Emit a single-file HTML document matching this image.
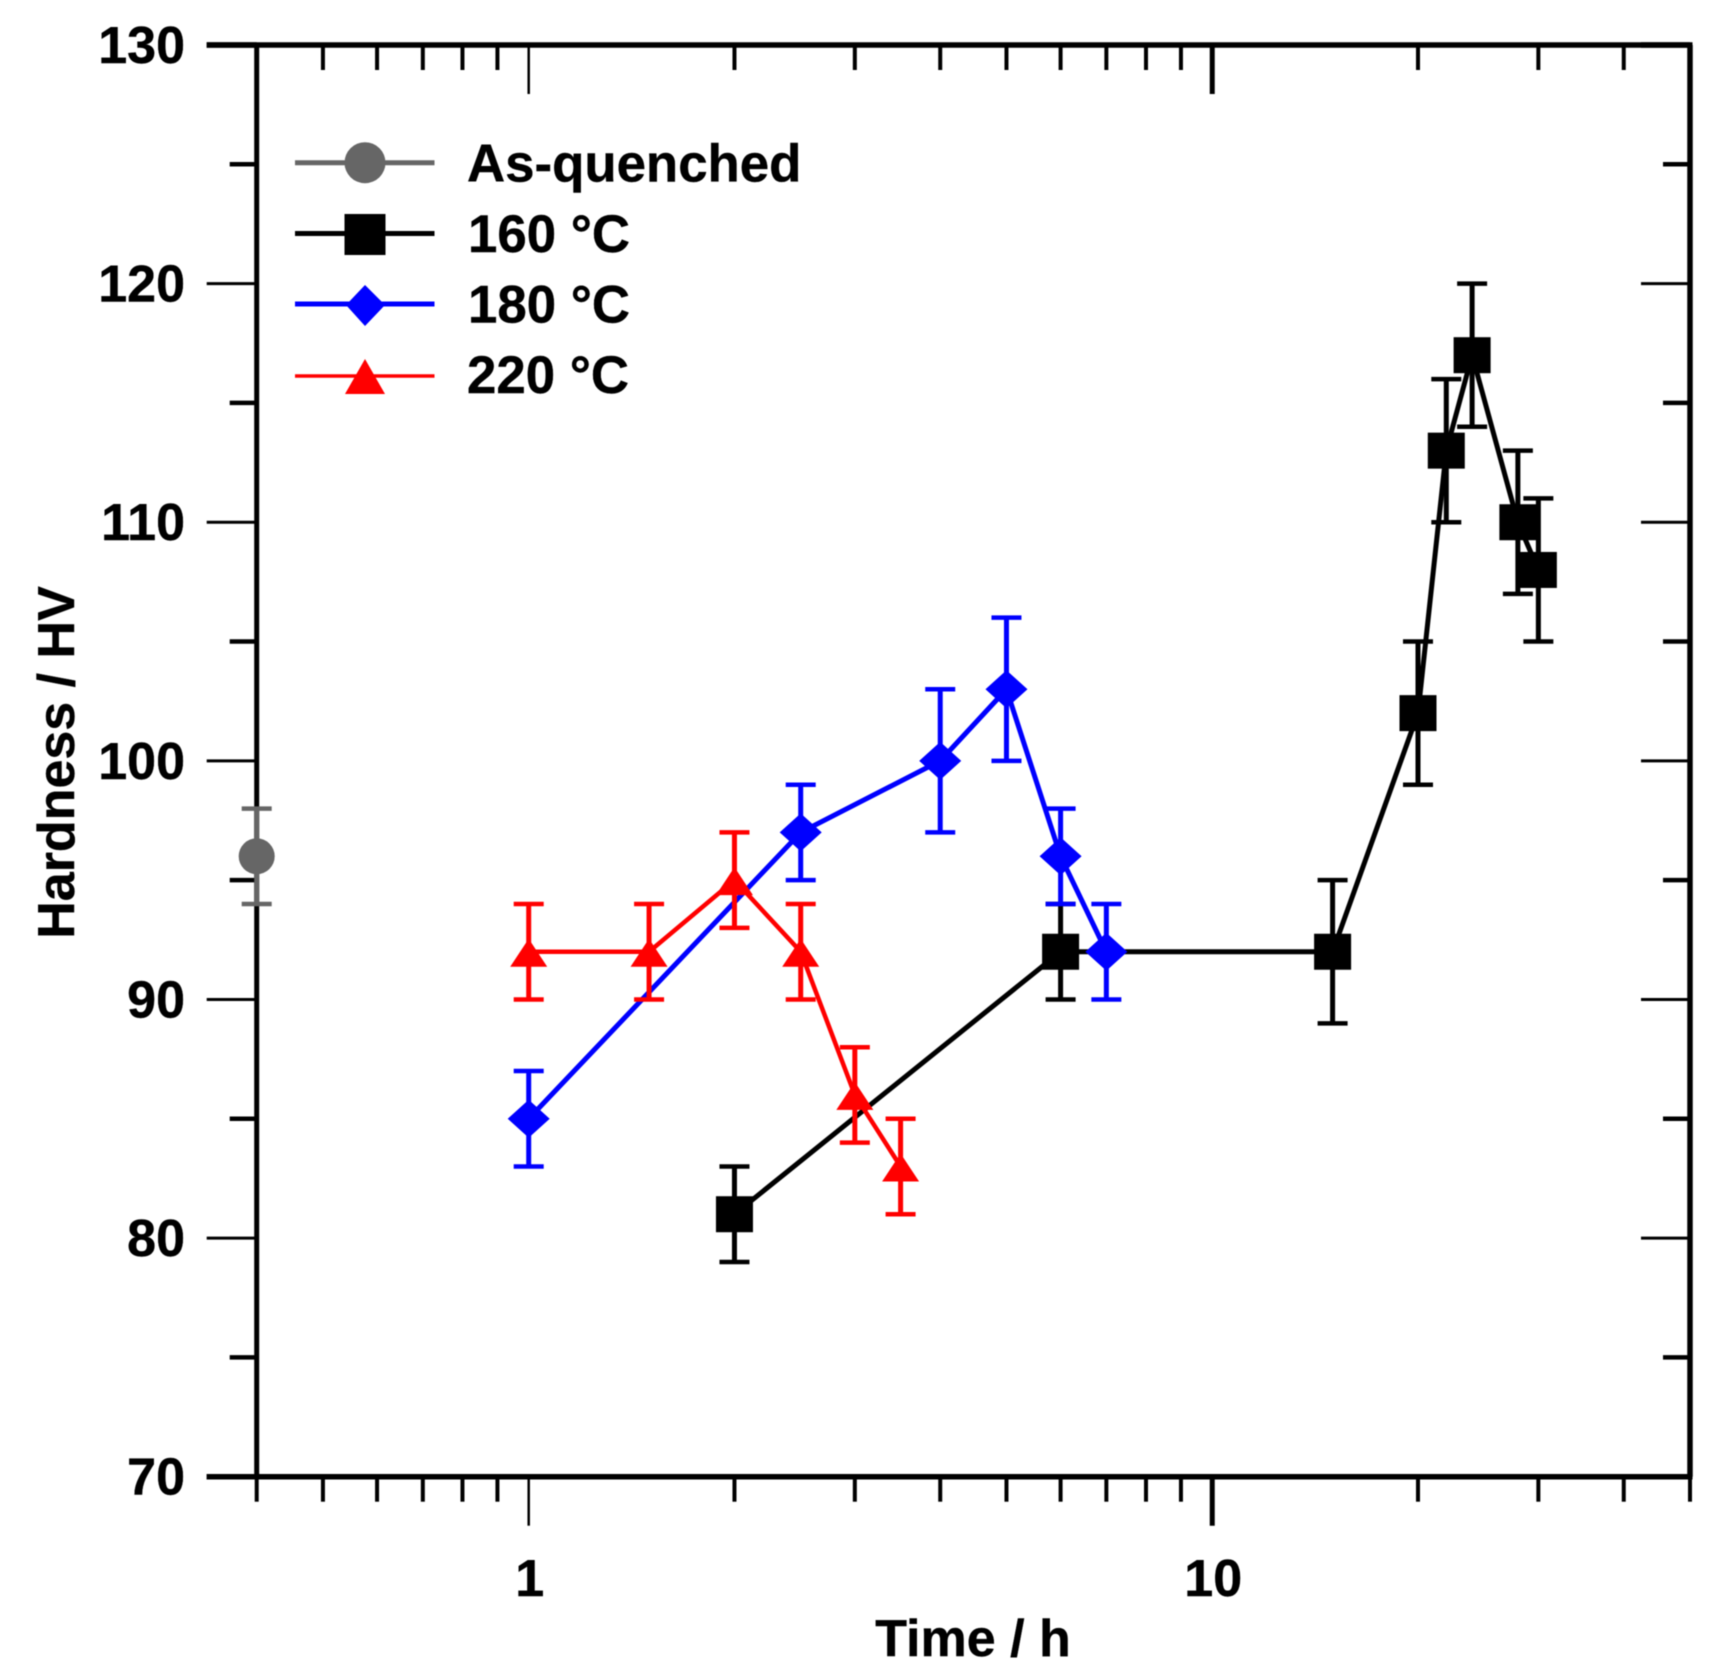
<!DOCTYPE html>
<html lang="en">
<head>
<meta charset="utf-8">
<title>Hardness vs. ageing time</title>
<style>
  html, body { margin: 0; padding: 0; background: #fff; }
  body { width: 1717px; height: 1673px; overflow: hidden; }
  svg { display: block; filter: blur(0.5px); }
  text { font-family: "Liberation Sans", Arial, sans-serif; font-weight: bold; font-size: 52px; fill: #000; stroke: #000; stroke-width: 0.4px; }
  .legend-label { font-size: 52.8px; }
</style>
</head>
<body>
<svg id="chart" xmlns="http://www.w3.org/2000/svg" width="1717" height="1673" viewBox="0 0 1717 1673">
  <rect x="0" y="0" width="1717" height="1673" fill="#fff"/>
  <g id="ticks"></g>
  <g id="frame"></g>
  <g id="tick-labels"></g>
  <g id="series"></g>
  <text x="973" y="1656" text-anchor="middle">Time / h</text>
  <text transform="translate(74 762.5) rotate(-90)" text-anchor="middle">Hardness / HV</text>
  <g>
    <g>
      <line x1="295" y1="162.7" x2="434.5" y2="162.7" stroke="#666" stroke-width="5"/>
      <circle cx="365" cy="162.7" r="20.5" fill="#666"/>
      <text class="legend-label" x="467" y="181.7">As-quenched</text>
    </g>
    <g>
      <line x1="295" y1="233.5" x2="434.5" y2="233.5" stroke="#000" stroke-width="5"/>
      <rect x="344.5" y="214" width="41" height="41" fill="#000"/>
      <text class="legend-label" x="468" y="252">160 °C</text>
    </g>
    <g>
      <line x1="295" y1="304" x2="434.5" y2="304" stroke="#00f" stroke-width="5"/>
      <polygon points="365,285 385,305 365,326 346,305" fill="#00f"/>
      <text class="legend-label" x="468" y="322.7">180 °C</text>
    </g>
    <g>
      <line x1="295" y1="376" x2="434.5" y2="376" stroke="#f00" stroke-width="3.5"/>
      <polygon points="365,359 385,394 345,394" fill="#f00"/>
      <text class="legend-label" x="467" y="393">220 °C</text>
    </g>
  </g>
</svg>
<script>
// Axis tick values
const xMajorTicks = [1, 10];
const xMajorLabels = ["1", "10"];
const xMinorTicks = [0.4, 0.5, 0.6, 0.7, 0.8, 0.9, 2, 3, 4, 5, 6, 7, 8, 9, 20, 30, 40, 50];
const yMajorTicks = [70, 80, 90, 100, 110, 120, 130];
const yMajorLabels = ["70", "80", "90", "100", "110", "120", "130"];
const yMinorTicks = [75, 85, 95, 105, 115, 125];
const xDomain = [0.4, 50];
const yDomain = [70, 130];

// Series data
const timesQuenched = [0.4];
const hardnessQuenched = [96];
const errorQuenched = [2];

const times160 = [2, 6, 15, 20, 22, 24, 28, 30];
const hardness160 = [81, 92, 92, 102, 113, 117, 110, 108];
const error160 = [2, 2, 3, 3, 3, 3, 3, 3];

const times180 = [1, 2.5, 4, 5, 6, 7];
const hardness180 = [85, 97, 100, 103, 96, 92];
const error180 = [2, 2, 3, 3, 2, 2];

const times220 = [1, 1.5, 2, 2.5, 3, 3.5];
const hardness220 = [92, 92, 95, 92, 86, 83];
const error220 = [2, 2, 2, 2, 2, 2];

const NS = "http://www.w3.org/2000/svg";
const plotLeft = 256.7, plotRight = 1690, plotTop = 45, plotBottom = 1476.7;

function xScale(v) {
  const a = Math.log10(xDomain[0]), b = Math.log10(xDomain[1]);
  return plotLeft + (Math.log10(v) - a) / (b - a) * (plotRight - plotLeft);
}
function yScale(v) {
  return plotBottom - (v - yDomain[0]) / (yDomain[1] - yDomain[0]) * (plotBottom - plotTop);
}
function seg(parent, x1, y1, x2, y2, color, width) {
  const l = document.createElementNS(NS, "line");
  l.setAttribute("x1", x1);
  l.setAttribute("y1", y1);
  l.setAttribute("x2", x2);
  l.setAttribute("y2", y2);
  l.setAttribute("stroke", color);
  l.setAttribute("stroke-width", width);
  parent.appendChild(l);
  return l;
}
function label(parent, x, y, str, anchor) {
  const t = document.createElementNS(NS, "text");
  t.setAttribute("x", x);
  t.setAttribute("y", y);
  t.setAttribute("text-anchor", anchor);
  t.textContent = str;
  parent.appendChild(t);
  return t;
}

const tickGroup = document.getElementById("ticks");
const frameGroup = document.getElementById("frame");
const labelGroup = document.getElementById("tick-labels");
const seriesGroup = document.getElementById("series");

// X ticks, bottom (outward) and top (inward)
xMajorTicks.forEach(function (v, i) {
  const x = xScale(v);
  const w = v === 1 ? 2.5 : 5;
  const a = seg(tickGroup, x, plotBottom, x, plotBottom + 49, "#000", w);
  
  
  const b = seg(tickGroup, x, plotTop, x, plotTop + 49, "#000", w);
  
  
  const t = label(labelGroup, x + 1, 1596, xMajorLabels[i], "middle");
  
  
});
xMinorTicks.forEach(function (v) {
  const x = xScale(v);
  const a = seg(tickGroup, x, plotBottom, x, plotBottom + 25, "#000", 4);
  
  
  const b = seg(tickGroup, x, plotTop, x, plotTop + 25, "#000", 4);
  
  
});

// Y ticks, left (outward) and right (inward)
yMajorTicks.forEach(function (v, i) {
  const y = yScale(v);
  const edge = v === yDomain[0] || v === yDomain[1];
  const w = edge ? 5.5 : 3;
  const a = seg(tickGroup, plotLeft - 50, y, plotLeft, y, "#000", w);
  
  
  const b = seg(tickGroup, plotRight - 49, y, plotRight, y, "#000", w);
  
  
  const t = label(labelGroup, 185, y + 18, yMajorLabels[i], "end");
  
  
});
yMinorTicks.forEach(function (v) {
  const y = yScale(v);
  const a = seg(tickGroup, plotLeft - 27, y, plotLeft, y, "#000", 4.5);
  
  
  const b = seg(tickGroup, plotRight - 27, y, plotRight, y, "#000", 4.5);
  
  
});

// Frame
const frameTop = seg(frameGroup, plotLeft - 50, plotTop, plotRight + 2.5, plotTop, "#000", 5.5);


const frameBottom = seg(frameGroup, plotLeft - 50, plotBottom, plotRight + 2.5, plotBottom, "#000", 5.5);


const frameLeft = seg(frameGroup, plotLeft, plotTop, plotLeft, plotBottom, "#000", 5);


const frameRight = seg(frameGroup, plotRight, plotTop, plotRight, plotBottom, "#000", 5.5);



function drawMarker(parent, kind, cx, cy, color) {
  let m;
  if (kind === "circle") {
    m = document.createElementNS(NS, "circle");
    m.setAttribute("cx", cx);
    m.setAttribute("cy", cy);
    m.setAttribute("r", 18);
  } else if (kind === "square") {
    m = document.createElementNS(NS, "rect");
    m.setAttribute("x", cx - 18.5);
    m.setAttribute("y", cy - 18);
    m.setAttribute("width", 37);
    m.setAttribute("height", 36);
  } else if (kind === "diamond") {
    m = document.createElementNS(NS, "polygon");
    m.setAttribute("points", [cx, cy - 19, cx + 21, cy, cx, cy + 19, cx - 21, cy].join(" "));
  } else {
    m = document.createElementNS(NS, "polygon");
    m.setAttribute("points", [cx, cy - 13, cx + 18.5, cy + 15, cx - 18.5, cy + 15].join(" "));
  }
  m.setAttribute("fill", color);
  parent.appendChild(m);
  return m;
}

function drawSeries(name, times, values, errors, color, kind, lineWidth) {
  const g = document.createElementNS(NS, "g");
  
  
  seriesGroup.appendChild(g);

  if (times.length > 1) {
    const p = document.createElementNS(NS, "polyline");
    p.setAttribute("points", times.map(function (t, i) { return xScale(t) + "," + yScale(values[i]); }).join(" "));
    p.setAttribute("fill", "none");
    p.setAttribute("stroke", color);
    p.setAttribute("stroke-width", lineWidth);
    
    
    g.appendChild(p);
  }
  times.forEach(function (t, i) {
    const x = xScale(t);
    const hi = yScale(values[i] + errors[i]);
    const lo = yScale(values[i] - errors[i]);
    const stem = seg(g, x, hi, x, lo, color, 5);
    
    
    const capHi = seg(g, x - 15, hi, x + 15, hi, color, 4.5);
    
    
    const capLo = seg(g, x - 15, lo, x + 15, lo, color, 4.5);
    
    
  });
  times.forEach(function (t, i) {
    const m = drawMarker(g, kind, xScale(t), yScale(values[i]), color);
    
    
  });
}

drawSeries("series-as-quenched", timesQuenched, hardnessQuenched, errorQuenched, "#666", "circle", 4.5);
drawSeries("series-160c", times160, hardness160, error160, "#000", "square", 5);
drawSeries("series-180c", times180, hardness180, error180, "#00f", "diamond", 5);
drawSeries("series-220c", times220, hardness220, error220, "#f00", "triangle", 4.5);
</script>
</body>
</html>
